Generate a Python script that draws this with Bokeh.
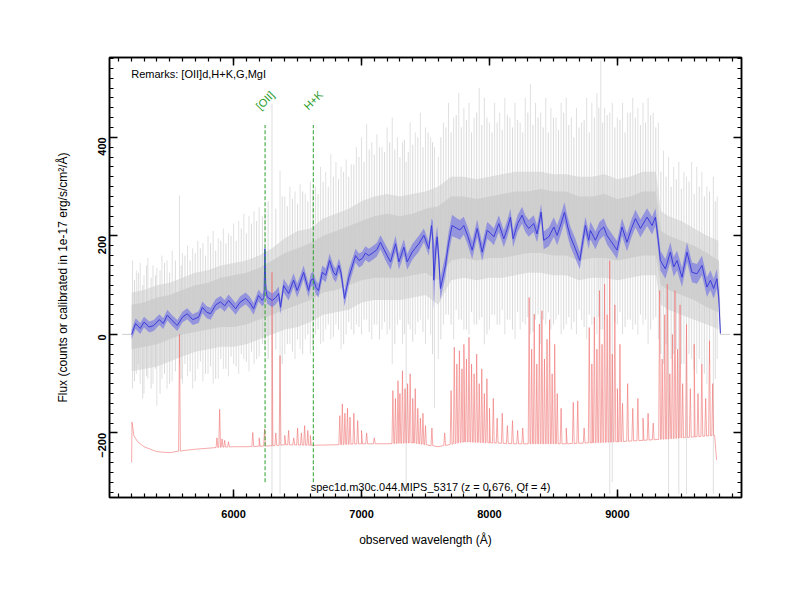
import math
import numpy as np
from bokeh.plotting import figure
from bokeh.models import Range1d, LinearAxis, SingleIntervalTicker, Label
from bokeh.embed import file_html
from bokeh.resources import INLINE

# ---------------- data ----------------
# smoothed spectrum (blue) and its uncertainty
blue_wave = [5203, 5234, 5270, 5300, 5340, 5375, 5420, 5450, 5482, 5520, 5560, 5600, 5638, 5680,
             5727, 5756, 5790, 5820, 5860, 5898, 5930, 5961, 5990, 6016, 6050, 6094, 6125, 6156,
             6195, 6224, 6238, 6245, 6252, 6263, 6302, 6330, 6352, 6367, 6391, 6430, 6469, 6497,
             6520, 6547, 6586, 6605, 6622, 6645, 6664, 6693, 6720, 6750, 6781, 6800, 6823, 6840,
             6867, 6900, 6953, 6980, 7005, 7030, 7057, 7096, 7120, 7148, 7190, 7227, 7266, 7292,
             7331, 7357, 7396, 7420, 7448, 7487, 7526, 7547, 7558, 7565, 7580, 7591, 7605, 7617,
             7656, 7680, 7708, 7747, 7770, 7799, 7830, 7865, 7904, 7943, 7982, 8010, 8034, 8073,
             8112, 8140, 8164, 8185, 8220, 8255, 8280, 8307, 8346, 8372, 8404, 8424, 8464, 8503,
             8529, 8560, 8586, 8610, 8633, 8670, 8706, 8730, 8750, 8776, 8789, 8828, 8860, 8893,
             8920, 8945, 8997, 9036, 9075, 9110, 9141, 9180, 9232, 9271, 9297, 9320, 9336, 9375,
             9414, 9440, 9466, 9505, 9544, 9583, 9622, 9661, 9700, 9727, 9752, 9778, 9792, 9805]
blue_flux = [0, 22, 12, 25, 15, 18, 30, 22, 39, 28, 18, 35, 42, 30,
             35, 55, 45, 42, 60, 66, 58, 69, 60, 52, 65, 73, 65, 52,
             79, 69, 75, 174, 90, 76, 69, 75, 83, 55, 99, 83, 110, 89,
             105, 126, 89, 110, 113, 95, 89, 126, 120, 150, 126, 120, 140, 125,
             73, 115, 160, 150, 154, 165, 160, 167, 172, 187, 165, 147, 184, 147,
             177, 147, 167, 175, 184, 201, 174, 221, 190, 110, 170, 198, 150, 93,
             140, 185, 221, 215, 212, 221, 200, 171, 215, 167, 211, 205, 198, 225,
             194, 215, 238, 194, 225, 242, 225, 215, 225, 204, 248, 191, 198, 218,
             201, 225, 248, 220, 198, 175, 150, 190, 221, 191, 211, 191, 210, 218,
             200, 191, 171, 218, 187, 215, 235, 215, 238, 221, 238, 190, 150, 133,
             167, 137, 150, 116, 167, 126, 123, 140, 96, 110, 93, 113, 76, 2]
blue_err = [10, 11, 11, 11, 11, 11, 11, 11, 11, 11, 11, 11, 11, 11,
            12, 12, 12, 12, 12, 12, 12, 12, 12, 12, 12, 12, 12, 12,
            12, 12, 14, 16, 14, 14, 14, 14, 14, 14, 14, 14, 14, 14,
            14, 14, 14, 14, 14, 14, 14, 14, 14, 14, 14, 14, 14, 14,
            16, 16, 14, 14, 14, 14, 14, 14, 14, 14, 16, 16, 16, 16,
            16, 16, 16, 16, 16, 14, 14, 14, 40, 60, 30, 22, 26, 22,
            22, 22, 22, 20, 20, 18, 18, 18, 18, 18, 17, 17, 17, 17,
            17, 17, 17, 17, 17, 17, 17, 17, 17, 17, 17, 18, 19, 20,
            20, 20, 20, 20, 20, 20, 18, 18, 18, 18, 18, 18, 18, 18,
            18, 18, 18, 18, 18, 18, 18, 18, 18, 18, 18, 20, 20, 20,
            20, 20, 20, 20, 20, 20, 20, 20, 20, 20, 20, 20, 16, 2]

# raw spectrum (grey): envelopes of the dense noise
raw_wave = [5203, 5300, 5400, 5500, 5600, 5700, 5800, 5900, 6000, 6100, 6200, 6300, 6400, 6500,
            6600, 6700, 6800, 6900, 7000, 7100, 7200, 7300, 7400, 7500, 7600, 7700, 7800, 7900,
            8000, 8100, 8200, 8300, 8400, 8500, 8600, 8700, 8800, 8900, 9000, 9100, 9200, 9300,
            9340, 9400, 9500, 9600, 9700, 9790]
raw_lo = [-75, -70, -65, -55, -45, -35, -30, -25, -25, -20, -10, 0, 10, 15,
          25, 40, 45, 50, 65, 70, 70, 70, 75, 80, 60, 110, 115, 110,
          115, 115, 120, 125, 125, 120, 120, 110, 115, 115, 110, 115, 120, 120,
          60, 50, 40, 30, 20, 10]
raw_hi = [85, 90, 100, 105, 115, 125, 130, 140, 145, 150, 160, 175, 195, 210,
          215, 235, 245, 255, 270, 280, 285, 280, 285, 290, 300, 320, 320, 315,
          320, 325, 330, 330, 330, 325, 325, 320, 320, 325, 315, 320, 330, 330,
          250, 240, 230, 215, 200, 190]
raw_core_lo = [-30, -25, -20, -10, 0, 5, 10, 15, 15, 20, 30, 40, 50, 60,
               70, 85, 90, 100, 110, 115, 115, 115, 120, 125, 110, 150, 155, 150,
               155, 155, 160, 165, 165, 160, 160, 150, 155, 155, 150, 155, 160, 160,
               100, 90, 80, 70, 55, 45]
raw_core_hi = [60, 65, 75, 80, 90, 100, 105, 115, 120, 125, 135, 150, 165, 175,
               185, 200, 210, 220, 230, 240, 245, 240, 245, 255, 260, 280, 280, 275,
               280, 285, 290, 290, 295, 290, 290, 280, 280, 285, 275, 280, 290, 290,
               210, 200, 190, 180, 165, 150]
# raw spectrum padding at zero beyond the data
pad_wave_left = [5130, 5203]
pad_wave_right = [9790, 9805, 9880]
pad_flux_left = [0, 0]
pad_flux_right = [150, 0, 0]

# raw spectrum individual excursions (wavelength, top, bottom)
spike_wave = [5210, 5240, 5270, 5300, 5330, 5370, 5400, 5440, 5480, 5520, 5577, 5600, 5640, 5680,
              5720, 5760, 5800, 5840, 5880, 5920, 5960, 6000, 6040, 6080, 6120, 6160, 6200, 6245,
              6300, 6363, 6400, 6440, 6480, 6520, 6560, 6600, 6640, 6680, 6720, 6760, 6800, 6840,
              6880, 6920, 6960, 7000, 7040, 7080, 7120, 7160, 7200, 7240, 7280, 7320, 7349, 7380,
              7420, 7460, 7500, 7540, 7570, 7600, 7640, 7680, 7720, 7760, 7800, 7840, 7880, 7920,
              7960, 8000, 8040, 8080, 8120, 8160, 8200, 8240, 8280, 8320, 8360, 8400, 8440, 8480,
              8520, 8560, 8600, 8640, 8680, 8720, 8760, 8800, 8840, 8870, 8900, 8940, 8960, 9000,
              9040, 9080, 9120, 9160, 9200, 9240, 9280, 9320, 9360, 9400, 9440, 9480, 9520, 9540,
              9580, 9620, 9660, 9700, 9750, 9780]
spike_top = [150, 130, 145, 120, 155, 140, 135, 160, 150, 170, 282, 165, 180, 175,
             190, 185, 200, 210, 195, 215, 205, 225, 230, 245, 240, 250, 258, 250,
             468, 332, 280, 300, 290, 305, 285, 310, 300, 340, 330, 366, 350, 340,
             355, 345, 380, 400, 427, 390, 406, 380, 420, 440, 400, 390, 350, 430,
             410, 450, 420, 400, 380, 360, 430, 470, 440, 490, 460, 470, 440, 500,
             480, 430, 470, 450, 480, 440, 470, 430, 480, 508, 470, 450, 480, 460,
             440, 470, 480, 440, 460, 430, 480, 470, 490, 556, 460, 450, 470, 440,
             470, 450, 480, 460, 470, 480, 450, 430, 373, 360, 340, 350, 330, 320,
             350, 340, 330, 300, 320, 280]
spike_bot = [-110, -80, -100, -120, -90, -100, -145, -90, -110, -95, -60, -100, -85, -110,
             -70, -95, -80, -100, -90, -70, -85, -60, -80, -50, -75, -60, -45, -30,
             -324, -324, -40, -20, -50, -30, -10, -40, 0, -20, 10, -10, 20, -30,
             0, 10, 20, 0, 30, -10, 20, 10, 0, -60, 20, -20, -324, 10,
             0, 30, -20, 0, -150, -50, 20, 40, -10, 30, 10, 0, 20, 30,
             -20, 10, 40, 20, 0, 30, -10, 10, 20, 0, 30, -20, 20, 10,
             30, 0, 20, 10, 0, 30, -10, 20, 0, 10, 30, -324, -300, 20,
             0, 30, 10, 0, 20, -20, 30, -10, -60, -324, -40, -324, -60, -324,
             -50, -80, -60, -100, -324, -50]
spike2_wave = [5225, 5255, 5290, 5320, 5355, 5390, 5425, 5460, 5500, 5545,
               5590, 5620, 5660, 5700, 5740, 5780, 5820, 5860, 5900, 5940,
               5980, 6020, 6060, 6100, 6140, 6180, 6225, 6270, 6330, 6380,
               6420, 6460, 6500, 6540, 6580, 6620, 6660, 6700, 6740, 6780,
               6820, 6860, 6900, 6940, 6980, 7020, 7060, 7100, 7140, 7180,
               7220, 7260, 7300, 7335, 7365, 7400, 7440, 7480, 7520, 7555,
               7620, 7660, 7700, 7740, 7780, 7820, 7860, 7900, 7940, 7980,
               8020, 8060, 8100, 8140, 8180, 8220, 8260, 8300, 8340, 8380,
               8420, 8460, 8500, 8540, 8580, 8620, 8660, 8700, 8740, 8780,
               8820, 8855, 8885, 8920, 8980, 9020, 9060, 9100, 9140, 9180,
               9220, 9260, 9300, 9340, 9380, 9420, 9460, 9500, 9560, 9600,
               9640, 9680, 9720, 9765]
spike2_top = [110, 125, 100, 140, 115, 120, 130, 145, 125, 150,
              140, 160, 150, 165, 175, 160, 185, 170, 190, 185,
              200, 190, 215, 205, 225, 230, 240, 270, 255, 280,
              260, 275, 265, 290, 270, 295, 285, 310, 300, 320,
              315, 330, 320, 345, 360, 350, 375, 365, 380, 370,
              390, 375, 360, 395, 370, 385, 400, 380, 410, 390,
              400, 420, 410, 445, 420, 435, 410, 450, 425, 440,
              410, 430, 415, 445, 420, 435, 410, 450, 425, 440,
              420, 410, 440, 415, 450, 425, 400, 420, 435, 410,
              440, 460, 430, 445, 420, 435, 410, 450, 440, 425,
              430, 445, 420, 330, 320, 300, 315, 295, 310, 285,
              300, 280, 290, 270]
spike2_bot = [-95, -60, -130, -85, -110, -70, -120, -80, -100, -75,
              -90, -60, -75, -95, -55, -80, -65, -90, -50, -70,
              -45, -65, -40, -55, -35, -50, -20, -50, -30, -60,
              -20, -35, -10, -40, 0, -25, 10, -15, 20, -5,
              10, -20, 25, 0, 15, 30, 5, 20, -10, 25,
              10, -20, 30, 0, 20, -15, 25, 5, 30, -40,
              -10, 40, 20, 50, 30, 10, 45, 20, 35, 0,
              40, 20, 50, 30, 10, 45, 25, 35, 5, 40,
              30, 45, 20, 40, 10, 35, 25, 50, 15, 40,
              20, 35, 10, 40, 25, 45, 15, 30, 20, 40,
              30, 10, 35, -40, -20, -50, -30, -60, -40, -70,
              -50, -80, -60, -90]

# sky / error spectrum (red), offset below zero
sky_base_wave = [5203, 5206, 5220, 5250, 5300, 5400, 5500, 5600, 5700, 5800, 5900, 6000, 6100,
                 6200, 6300, 6400, 6600, 6800, 7000, 7200, 7400, 7600, 7800, 8000, 8200, 8400,
                 8600, 8800, 9000, 9200, 9400, 9600, 9760, 9775]
sky_base_flux = [-260, -178, -205, -218, -228, -238, -240, -236, -233, -231, -229, -228, -228,
                 -227, -226, -224, -225, -224, -222, -222, -220, -228, -218, -220, -222, -222,
                 -222, -220, -218, -215, -212, -208, -205, -255]
sky_line_wave = [5577, 5870, 5891, 5910, 5930, 5960, 6150, 6200, 6242, 6300, 6330, 6363, 6400, 6430,
                 6470, 6500, 6530, 6555, 6580, 6600, 6830, 6850, 6870, 6890, 6910, 6940, 6970, 7000,
                 7040, 7100, 7245, 7265, 7285, 7300, 7320, 7340, 7360, 7380, 7400, 7420, 7440, 7460,
                 7480, 7500, 7550, 7650, 7700, 7725, 7745, 7765, 7785, 7800, 7820, 7840, 7860, 7880,
                 7900, 7920, 7940, 7960, 7980, 8000, 8030, 8060, 8100, 8140, 8180, 8220, 8260, 8310,
                 8330, 8350, 8370, 8390, 8410, 8430, 8450, 8470, 8490, 8510, 8530, 8560, 8600, 8655,
                 8690, 8740, 8780, 8800, 8820, 8840, 8860, 8880, 8900, 8920, 8940, 8960, 8980, 9000,
                 9020, 9040, 9080, 9120, 9160, 9200, 9240, 9280, 9330, 9350, 9370, 9390, 9410, 9430,
                 9450, 9470, 9490, 9510, 9540, 9570, 9600, 9630, 9660, 9690, 9720, 9745]
sky_line_top = [0, -210, -152, -212, -215, -218, -199, -210, -192, 126, -200, -43, -205, -195,
                -210, -190, -200, -185, -195, -205, -165, -141, -160, -150, -168, -160, -175, -195,
                -200, -210, -114, -130, -94, -120, -74, -110, -100, -80, -130, -110, -150, -170,
                -160, -185, -190, -200, -114, -26, -60, -33, -70, -20, -50, -6, -60, -80,
                -40, -100, -70, -120, -90, -150, -130, -170, -160, -185, -175, -195, -190, 75,
                -30, 41, -60, 21, 48, -50, -10, 30, -80, -20, -120, -150, -190, -138,
                -135, -190, 14, -60, 35, -30, 89, -20, 102, 40, 150, -40, 60, -110,
                -20, -140, -100, -150, -130, -170, -160, -180, 89, -50, 40, 102, -80, 0,
                89, -30, 60, -100, 20, -110, -20, -120, -60, -130, -13, -100]

# spectral feature markers
feature_names = ["[OII]", "H+K"]
feature_wave = [6246, 6623]

remarks = "Remarks: [OII]d,H+K,G,MgI"
spec_title = "spec1d.m30c.044.MIPS_5317 (z = 0.676, Qf = 4)"

# ---------------- figure ----------------
FONT = "Liberation Sans"
p = figure(width=792, height=592, output_backend="svg", toolbar_location=None,
           x_range=Range1d(5030, 9970), y_range=Range1d(-331, 562),
           min_border_left=109, min_border_right=51, min_border_top=57, min_border_bottom=95)
p.background_fill_color = "white"
p.border_fill_color = "white"
p.xgrid.visible = False
p.ygrid.visible = False
p.outline_line_color = "black"
p.outline_line_width = 1.5

def style_axis(ax, show_labels):
    ax.major_tick_in = 8
    ax.major_tick_out = 0
    ax.minor_tick_in = 4
    ax.minor_tick_out = 0
    ax.major_tick_line_width = 1.5
    ax.minor_tick_line_width = 1.2
    ax.axis_line_width = 1.5
    ax.major_label_text_font = FONT
    ax.major_label_text_font_style = "bold"
    ax.major_label_text_font_size = "11px"
    ax.major_label_text_color = "black"
    ax.axis_label_text_font = FONT
    ax.axis_label_text_font_style = "normal"
    ax.axis_label_text_font_size = "12px"
    ax.axis_label_text_color = "black"
    if not show_labels:
        ax.major_label_text_alpha = 0
        ax.major_label_text_font_size = "1px"

p.xaxis.ticker = SingleIntervalTicker(interval=1000, num_minor_ticks=10)
p.yaxis.ticker = SingleIntervalTicker(interval=200, num_minor_ticks=10)
style_axis(p.xaxis[0], True)
style_axis(p.yaxis[0], True)
p.xaxis.axis_label = "observed wavelength (Å)"
p.yaxis.axis_label = "Flux (counts or calibrated in 1e-17 erg/s/cm²/Å)"
p.xaxis.major_label_standoff = 12
p.xaxis.axis_label_standoff = 12
p.yaxis.major_label_orientation = math.pi / 2
p.yaxis.major_label_standoff = 7
p.yaxis.axis_label_standoff = 22

top_ax = LinearAxis(ticker=SingleIntervalTicker(interval=1000, num_minor_ticks=10))
right_ax = LinearAxis(ticker=SingleIntervalTicker(interval=200, num_minor_ticks=10))
style_axis(top_ax, False)
style_axis(right_ax, False)
p.add_layout(top_ax, "above")
p.add_layout(right_ax, "right")

# grey raw spectrum
p.line(pad_wave_left, pad_flux_left, line_color="#d0d0d0", line_width=1)
p.line(pad_wave_right, pad_flux_right, line_color="#d0d0d0", line_width=1)
p.varea(x=raw_wave, y1=raw_lo, y2=raw_hi, fill_color="#e3e3e3", fill_alpha=1.0)
p.segment(x0=spike_wave, y0=spike_bot, x1=spike_wave, y1=spike_top,
          line_color="#d4d4d4", line_width=0.8, line_alpha=0.9)
p.segment(x0=spike2_wave, y0=spike2_bot, x1=spike2_wave, y1=spike2_top,
          line_color="#cccccc", line_width=0.8, line_alpha=0.9)
p.varea(x=raw_wave, y1=raw_core_lo, y2=raw_core_hi, fill_color="#cacaca", fill_alpha=0.8)

# red sky spectrum
sw = np.array(sky_line_wave, dtype=float)
st = np.array(sky_line_top, dtype=float)
sb = np.interp(sw, sky_base_wave, sky_base_flux)
pts = list(zip(sky_base_wave, sky_base_flux))
for w, t, b in zip(sw, st, sb):
    pts += [(w - 7, b), (w, t), (w + 7, b)]
pts.sort(key=lambda q: q[0])
p.line([q[0] for q in pts], [q[1] for q in pts], line_color="#f07070", line_width=0.8, line_alpha=0.75)

# blue smoothed spectrum
bf = np.array(blue_flux, dtype=float)
be = np.array(blue_err, dtype=float)
p.varea(x=blue_wave, y1=bf - be, y2=bf + be, fill_color="#6e6ee8", fill_alpha=0.6)
p.line(blue_wave, blue_flux, line_color="#3d3dd8", line_width=1)

# feature markers
for name, w in zip(feature_names, feature_wave):
    p.segment(x0=[w], y0=[-300], x1=[w], y1=[425], line_color="#2ca02c",
              line_dash="4 2", line_width=1)
    p.add_layout(Label(x=w, y=475, text=name, angle=math.pi / 4,
                       text_color="#1f9a1f", text_font=FONT, text_font_size="11px",
                       text_align="center", text_baseline="middle"))

p.add_layout(Label(x=5200, y=528, text=remarks, text_font=FONT, text_font_size="11px",
                   text_color="black", text_align="left", text_baseline="middle"))
p.add_layout(Label(x=7539, y=-309, text=spec_title, text_font=FONT, text_font_size="11px",
                   text_color="black", text_align="center", text_baseline="middle"))

open("out.html", "w").write(file_html(p, INLINE))
